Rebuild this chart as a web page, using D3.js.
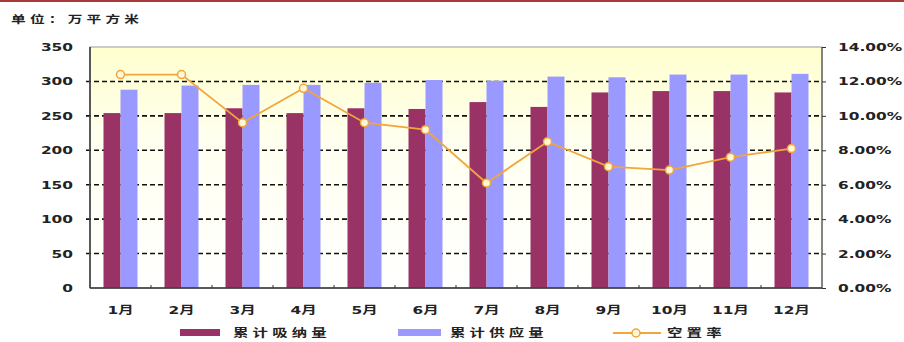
<!DOCTYPE html>
<html>
<head>
<meta charset="utf-8">
<script src="https://cdn.jsdelivr.net/npm/d3@7"></script>
<style>
  body { margin: 0; background: #fff; }
  text { font-family: "DejaVu Sans", "Noto Sans CJK SC", sans-serif; fill: #222; }
</style>
</head>
<body>
<div id="chart"></div>
<script>
// data
var months = ['1月','2月','3月','4月','5月','6月','7月','8月','9月','10月','11月','12月'];
var absorbed = [254, 254, 261, 254, 261, 260, 270, 263, 284, 286, 286, 284];
var supplied = [288, 294, 295, 295, 298, 302, 301, 307, 306, 310, 310, 311];
var vacancy = [12.4, 12.4, 9.6, 11.6, 9.6, 9.2, 6.1, 8.5, 7.05, 6.85, 7.6, 8.1];
var leftTicks = [0, 50, 100, 150, 200, 250, 300, 350];
var rightTicks = [0, 2, 4, 6, 8, 10, 12, 14];

var width = 904, height = 342;
var margin = { left: 90, right: 82, top: 47, bottom: 54 };
var plotW = width - margin.left - margin.right;
var plotH = height - margin.top - margin.bottom;
var sx = 1.4; // the source text is stretched sideways

// stretch text horizontally, keeping its anchor point
function stretch(sel)
{
	sel.each(function() {
		var t = d3.select(this);
		var xv = +t.attr('x') || 0;
		t.attr('x', xv / sx).attr('transform', 'scale(' + sx + ',1)');
	});
}

var svg = d3.select('#chart')
	.append('svg')
	.attr('width', width)
	.attr('height', height);

var defs = svg.append('defs');
var grad = defs.append('linearGradient')
	.attr('id', 'bg')
	.attr('x1', 0).attr('y1', 0).attr('x2', 0).attr('y2', 1);
grad.append('stop').attr('offset', '0%').attr('stop-color', '#ffffcf');
grad.append('stop').attr('offset', '40%').attr('stop-color', '#fffff0');
grad.append('stop').attr('offset', '100%').attr('stop-color', '#ffffff');

// top red rule
svg.append('rect')
	.attr('x', 0).attr('y', 0)
	.attr('width', width).attr('height', 2)
	.attr('fill', '#a83a3a');

svg.append('text')
	.attr('x', 11).attr('y', 23)
	.style('font-size', '10.5px')
	.style('font-family', '"Noto Sans CJK SC", sans-serif')
	.style('font-weight', 'bold')
	.style('letter-spacing', '3px')
	.text('单位：万平方米')
	.call(stretch);

var g = svg.append('g')
	.attr('transform', 'translate(' + margin.left + ',' + margin.top + ')');

var x = d3.scaleBand()
	.domain(months)
	.range([0, plotW]);

var xInner = d3.scaleBand()
	.domain(['a', 's'])
	.range([x.bandwidth() / 2 - 17, x.bandwidth() / 2 + 17]);

var y = d3.scaleLinear().domain([0, 350]).range([plotH, 0]);
var y2 = d3.scaleLinear().domain([0, 14]).range([plotH, 0]);

g.append('rect')
	.attr('width', plotW).attr('height', plotH)
	.attr('fill', 'url(#bg)');

// dashed grid
g.selectAll('.grid')
	.data(leftTicks.filter(function(d) { return d > 0 && d < 350; }))
	.enter()
	.append('line')
	.attr('x1', -4).attr('x2', plotW)
	.attr('y1', function(d) { return y(d); })
	.attr('y2', function(d) { return y(d); })
	.attr('stroke', '#111')
	.attr('stroke-width', 1.6)
	.attr('stroke-dasharray', '5,3');

var groups = g.selectAll('.month')
	.data(months)
	.enter()
	.append('g')
	.attr('transform', function(d) { return 'translate(' + x(d) + ',0)'; });

groups.append('rect')
	.attr('x', xInner('a'))
	.attr('width', xInner.bandwidth())
	.attr('y', function(d, i) { return y(absorbed[i]); })
	.attr('height', function(d, i) { return plotH - y(absorbed[i]); })
	.attr('fill', '#993366');

groups.append('rect')
	.attr('x', xInner('s'))
	.attr('width', xInner.bandwidth())
	.attr('y', function(d, i) { return y(supplied[i]); })
	.attr('height', function(d, i) { return plotH - y(supplied[i]); })
	.attr('fill', '#9999ff');

// frame
g.append('rect')
	.attr('width', plotW).attr('height', plotH)
	.attr('fill', 'none')
	.attr('stroke', '#999')
	.attr('stroke-width', 1);
g.append('line')
	.attr('x1', 0).attr('x2', 0).attr('y1', 0).attr('y2', plotH)
	.attr('stroke', '#333').attr('stroke-width', 1.5);
g.append('line')
	.attr('x1', 0).attr('x2', plotW).attr('y1', plotH).attr('y2', plotH)
	.attr('stroke', '#333').attr('stroke-width', 1.5);
g.append('line')
	.attr('x1', plotW).attr('x2', plotW).attr('y1', 0).attr('y2', plotH)
	.attr('stroke', '#555').attr('stroke-width', 1.2);

// axes
var leftAxis = d3.axisLeft(y).tickValues(leftTicks).tickSize(0).tickPadding(17);
var rightAxis = d3.axisRight(y2).tickValues(rightTicks).tickSize(4).tickPadding(12)
	.tickFormat(function(d) { return d.toFixed(2) + '%'; });
var bottomAxis = d3.axisBottom(x).tickSize(0).tickPadding(18);

var la = g.append('g').call(leftAxis);
var ra = g.append('g').attr('transform', 'translate(' + plotW + ',0)').call(rightAxis);
var ba = g.append('g').attr('transform', 'translate(0,' + plotH + ')').call(bottomAxis);

[la, ra, ba].forEach(function(a) {
	a.select('.domain').remove();
	a.selectAll('text')
		.style('font-size', '11px')
		.style('font-weight', 'bold')
		.style('font-family', '"DejaVu Sans", "Noto Sans CJK SC", sans-serif')
		.attr('fill', '#222')
		.call(stretch);
	a.selectAll('line').attr('stroke', '#333');
});

// small category boundary ticks
g.selectAll('.xtick')
	.data(months.slice(1))
	.enter()
	.append('line')
	.attr('x1', function(d) { return x(d); })
	.attr('x2', function(d) { return x(d); })
	.attr('y1', plotH - 3).attr('y2', plotH)
	.attr('stroke', '#333');

// vacancy line
var line = d3.line()
	.x(function(d, i) { return x(months[i]) + x.bandwidth() / 2; })
	.y(function(d) { return y2(d); });

g.append('path')
	.datum(vacancy)
	.attr('d', line)
	.attr('fill', 'none')
	.attr('stroke', '#f2a53a')
	.attr('stroke-width', 1.8);

g.selectAll('.dot')
	.data(vacancy)
	.enter()
	.append('circle')
	.attr('cx', function(d, i) { return x(months[i]) + x.bandwidth() / 2; })
	.attr('cy', function(d) { return y2(d); })
	.attr('r', 4)
	.attr('fill', '#fff8d8')
	.attr('stroke', '#f2a53a')
	.attr('stroke-width', 1.5);

// legend
var legend = svg.append('g').attr('transform', 'translate(0,333)');

legend.append('rect')
	.attr('x', 180).attr('y', -4).attr('width', 40).attr('height', 7)
	.attr('fill', '#993366');

legend.append('rect')
	.attr('x', 398).attr('y', -4).attr('width', 43).attr('height', 7)
	.attr('fill', '#9999ff');

legend.append('line')
	.attr('x1', 613).attr('x2', 661).attr('y1', 0).attr('y2', 0)
	.attr('stroke', '#f2a53a').attr('stroke-width', 2);
legend.append('circle')
	.attr('cx', 636).attr('cy', 0).attr('r', 4)
	.attr('fill', '#fff8d8').attr('stroke', '#f2a53a').attr('stroke-width', 1.5);

legend.selectAll('.ltext')
	.data([['累计吸纳量', 233], ['累计供应量', 450], ['空置率', 667]])
	.enter()
	.append('text')
	.attr('x', function(d) { return d[1]; })
	.attr('y', 4)
	.style('font-size', '11px')
	.style('font-weight', 'bold')
	.style('font-family', '"Noto Sans CJK SC", sans-serif')
	.style('letter-spacing', '3px')
	.text(function(d) { return d[0]; })
	.call(stretch);
</script>
</body>
</html>
